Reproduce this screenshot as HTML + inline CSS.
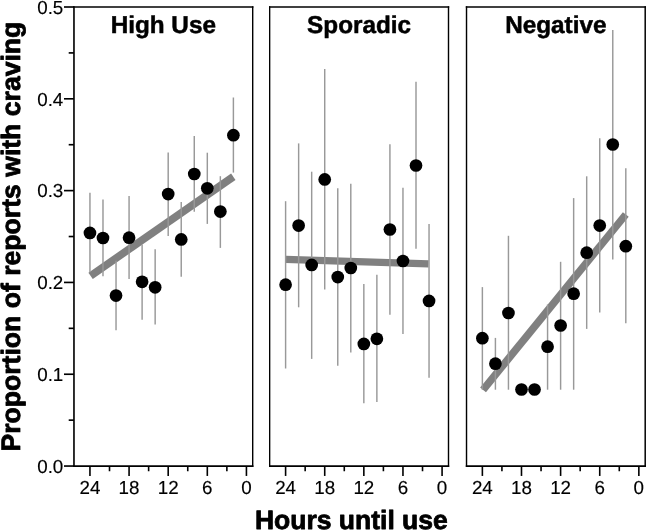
<!DOCTYPE html>
<html lang="en"><head><meta charset="utf-8"><title>Proportion of reports with craving by hours until use</title>
<style>html,body{margin:0;padding:0;background:#fff;}svg{display:block;will-change:transform;text-rendering:geometricPrecision;font-family:"Liberation Sans",Arial,Helvetica,sans-serif;}</style></head><body>
<svg width="646" height="530" viewBox="0 0 646 530">
<rect width="646" height="530" fill="#fff"/>
<line x1="90.6" y1="275.85" x2="233.3" y2="176.75" stroke="#808080" stroke-width="7.65"/>
<line x1="89.95" y1="192.7" x2="89.95" y2="272.2" stroke="#999" stroke-width="1.45"/>
<line x1="102.99" y1="199.4" x2="102.99" y2="276.2" stroke="#999" stroke-width="1.45"/>
<line x1="116.03" y1="260.7" x2="116.03" y2="330.3" stroke="#999" stroke-width="1.45"/>
<line x1="129.07" y1="196.1" x2="129.07" y2="278.9" stroke="#999" stroke-width="1.45"/>
<line x1="142.11" y1="244.5" x2="142.11" y2="319.7" stroke="#999" stroke-width="1.45"/>
<line x1="155.15" y1="249.3" x2="155.15" y2="324.5" stroke="#999" stroke-width="1.45"/>
<line x1="168.19" y1="152.5" x2="168.19" y2="236.0" stroke="#999" stroke-width="1.45"/>
<line x1="181.23" y1="202.0" x2="181.23" y2="276.8" stroke="#999" stroke-width="1.45"/>
<line x1="194.27" y1="136.0" x2="194.27" y2="211.7" stroke="#999" stroke-width="1.45"/>
<line x1="207.31" y1="152.7" x2="207.31" y2="223.9" stroke="#999" stroke-width="1.45"/>
<line x1="220.35" y1="176.2" x2="220.35" y2="247.9" stroke="#999" stroke-width="1.45"/>
<line x1="233.39" y1="97.5" x2="233.39" y2="172.6" stroke="#999" stroke-width="1.45"/>
<circle cx="89.95" cy="232.9" r="6.35" fill="#000"/>
<circle cx="102.99" cy="238.0" r="6.35" fill="#000"/>
<circle cx="116.03" cy="295.6" r="6.35" fill="#000"/>
<circle cx="129.07" cy="237.7" r="6.35" fill="#000"/>
<circle cx="142.11" cy="281.8" r="6.35" fill="#000"/>
<circle cx="155.15" cy="287.3" r="6.35" fill="#000"/>
<circle cx="168.19" cy="194.1" r="6.35" fill="#000"/>
<circle cx="181.23" cy="239.4" r="6.35" fill="#000"/>
<circle cx="194.27" cy="174.0" r="6.35" fill="#000"/>
<circle cx="207.31" cy="188.3" r="6.35" fill="#000"/>
<circle cx="220.35" cy="211.6" r="6.35" fill="#000"/>
<circle cx="233.39" cy="135.2" r="6.35" fill="#000"/>
<line x1="73.97" y1="6.15" x2="73.97" y2="466.97499999999997" stroke="#000" stroke-width="1.63"/>
<line x1="252.7" y1="6.15" x2="252.7" y2="466.97499999999997" stroke="#000" stroke-width="1.4"/>
<line x1="73.16" y1="7.0" x2="253.40" y2="7.0" stroke="#000" stroke-width="1.7"/>
<line x1="73.16" y1="466.15" x2="253.40" y2="466.15" stroke="#000" stroke-width="1.65"/>
<line x1="246.43" y1="466.05" x2="246.43" y2="475.95" stroke="#000" stroke-width="1.6"/>
<text x="246.43" y="494" font-size="18.8" text-anchor="middle" fill="#000" stroke="#000" stroke-width="0.15">0</text>
<line x1="226.87" y1="466.05" x2="226.87" y2="471.25" stroke="#000" stroke-width="1.6"/>
<line x1="207.31" y1="466.05" x2="207.31" y2="475.95" stroke="#000" stroke-width="1.6"/>
<text x="207.31" y="494" font-size="18.8" text-anchor="middle" fill="#000" stroke="#000" stroke-width="0.15">6</text>
<line x1="187.75" y1="466.05" x2="187.75" y2="471.25" stroke="#000" stroke-width="1.6"/>
<line x1="168.19" y1="466.05" x2="168.19" y2="475.95" stroke="#000" stroke-width="1.6"/>
<text x="168.19" y="494" font-size="18.8" text-anchor="middle" fill="#000" stroke="#000" stroke-width="0.15">12</text>
<line x1="148.63" y1="466.05" x2="148.63" y2="471.25" stroke="#000" stroke-width="1.6"/>
<line x1="129.07" y1="466.05" x2="129.07" y2="475.95" stroke="#000" stroke-width="1.6"/>
<text x="129.07" y="494" font-size="18.8" text-anchor="middle" fill="#000" stroke="#000" stroke-width="0.15">18</text>
<line x1="109.51" y1="466.05" x2="109.51" y2="471.25" stroke="#000" stroke-width="1.6"/>
<line x1="89.95" y1="466.05" x2="89.95" y2="475.95" stroke="#000" stroke-width="1.6"/>
<text x="89.95" y="494" font-size="18.8" text-anchor="middle" fill="#000" stroke="#000" stroke-width="0.15">24</text>
<text x="163.3" y="33.3" font-size="24.3" font-weight="bold" text-anchor="middle" fill="#000" stroke="#000" stroke-width="0.5" stroke-linejoin="round">High Use</text>
<line x1="285.6" y1="259.4" x2="428.6" y2="263.9" stroke="#808080" stroke-width="7.2"/>
<line x1="285.60" y1="201.2" x2="285.60" y2="368.5" stroke="#999" stroke-width="1.45"/>
<line x1="298.64" y1="143.4" x2="298.64" y2="307.3" stroke="#999" stroke-width="1.45"/>
<line x1="311.68" y1="171.7" x2="311.68" y2="358.9" stroke="#999" stroke-width="1.45"/>
<line x1="324.72" y1="69.0" x2="324.72" y2="289.5" stroke="#999" stroke-width="1.45"/>
<line x1="337.76" y1="188.3" x2="337.76" y2="365.7" stroke="#999" stroke-width="1.45"/>
<line x1="350.80" y1="183.8" x2="350.80" y2="352.4" stroke="#999" stroke-width="1.45"/>
<line x1="363.84" y1="283.9" x2="363.84" y2="403.3" stroke="#999" stroke-width="1.45"/>
<line x1="376.88" y1="274.8" x2="376.88" y2="401.9" stroke="#999" stroke-width="1.45"/>
<line x1="389.92" y1="144.3" x2="389.92" y2="314.8" stroke="#999" stroke-width="1.45"/>
<line x1="402.96" y1="187.7" x2="402.96" y2="334.0" stroke="#999" stroke-width="1.45"/>
<line x1="416.00" y1="81.7" x2="416.00" y2="248.8" stroke="#999" stroke-width="1.45"/>
<line x1="429.04" y1="223.9" x2="429.04" y2="377.8" stroke="#999" stroke-width="1.45"/>
<circle cx="285.60" cy="284.7" r="6.35" fill="#000"/>
<circle cx="298.64" cy="225.6" r="6.35" fill="#000"/>
<circle cx="311.68" cy="264.9" r="6.35" fill="#000"/>
<circle cx="324.72" cy="179.4" r="6.35" fill="#000"/>
<circle cx="337.76" cy="277.1" r="6.35" fill="#000"/>
<circle cx="350.80" cy="268.0" r="6.35" fill="#000"/>
<circle cx="363.84" cy="343.9" r="6.35" fill="#000"/>
<circle cx="376.88" cy="338.8" r="6.35" fill="#000"/>
<circle cx="389.92" cy="229.5" r="6.35" fill="#000"/>
<circle cx="402.96" cy="261.0" r="6.35" fill="#000"/>
<circle cx="416.00" cy="165.5" r="6.35" fill="#000"/>
<circle cx="429.04" cy="300.9" r="6.35" fill="#000"/>
<line x1="269.68" y1="6.15" x2="269.68" y2="466.97499999999997" stroke="#000" stroke-width="1.35"/>
<line x1="448.5" y1="6.15" x2="448.5" y2="466.97499999999997" stroke="#000" stroke-width="1.4"/>
<line x1="269.00" y1="7.0" x2="449.20" y2="7.0" stroke="#000" stroke-width="1.7"/>
<line x1="269.00" y1="466.15" x2="449.20" y2="466.15" stroke="#000" stroke-width="1.65"/>
<line x1="442.08" y1="466.05" x2="442.08" y2="475.95" stroke="#000" stroke-width="1.6"/>
<text x="442.08" y="494" font-size="18.8" text-anchor="middle" fill="#000" stroke="#000" stroke-width="0.15">0</text>
<line x1="422.52" y1="466.05" x2="422.52" y2="471.25" stroke="#000" stroke-width="1.6"/>
<line x1="402.96" y1="466.05" x2="402.96" y2="475.95" stroke="#000" stroke-width="1.6"/>
<text x="402.96" y="494" font-size="18.8" text-anchor="middle" fill="#000" stroke="#000" stroke-width="0.15">6</text>
<line x1="383.40" y1="466.05" x2="383.40" y2="471.25" stroke="#000" stroke-width="1.6"/>
<line x1="363.84" y1="466.05" x2="363.84" y2="475.95" stroke="#000" stroke-width="1.6"/>
<text x="363.84" y="494" font-size="18.8" text-anchor="middle" fill="#000" stroke="#000" stroke-width="0.15">12</text>
<line x1="344.28" y1="466.05" x2="344.28" y2="471.25" stroke="#000" stroke-width="1.6"/>
<line x1="324.72" y1="466.05" x2="324.72" y2="475.95" stroke="#000" stroke-width="1.6"/>
<text x="324.72" y="494" font-size="18.8" text-anchor="middle" fill="#000" stroke="#000" stroke-width="0.15">18</text>
<line x1="305.16" y1="466.05" x2="305.16" y2="471.25" stroke="#000" stroke-width="1.6"/>
<line x1="285.60" y1="466.05" x2="285.60" y2="475.95" stroke="#000" stroke-width="1.6"/>
<text x="285.60" y="494" font-size="18.8" text-anchor="middle" fill="#000" stroke="#000" stroke-width="0.15">24</text>
<text x="359.1" y="33.3" font-size="24.3" font-weight="bold" text-anchor="middle" fill="#000" stroke="#000" stroke-width="0.5" stroke-linejoin="round">Sporadic</text>
<line x1="483.06" y1="389.86" x2="625.8" y2="214.5" stroke="#808080" stroke-width="7.5"/>
<line x1="482.37" y1="287.1" x2="482.37" y2="389.7" stroke="#999" stroke-width="1.45"/>
<line x1="495.41" y1="337.9" x2="495.41" y2="389.7" stroke="#999" stroke-width="1.45"/>
<line x1="508.45" y1="235.8" x2="508.45" y2="389.7" stroke="#999" stroke-width="1.45"/>
<line x1="547.57" y1="304.5" x2="547.57" y2="389.7" stroke="#999" stroke-width="1.45"/>
<line x1="560.61" y1="261.8" x2="560.61" y2="389.7" stroke="#999" stroke-width="1.45"/>
<line x1="573.65" y1="198.1" x2="573.65" y2="389.7" stroke="#999" stroke-width="1.45"/>
<line x1="586.69" y1="176.3" x2="586.69" y2="328.9" stroke="#999" stroke-width="1.45"/>
<line x1="599.73" y1="138.3" x2="599.73" y2="312.5" stroke="#999" stroke-width="1.45"/>
<line x1="612.77" y1="29.9" x2="612.77" y2="259.5" stroke="#999" stroke-width="1.45"/>
<line x1="625.81" y1="168.2" x2="625.81" y2="323.2" stroke="#999" stroke-width="1.45"/>
<circle cx="482.37" cy="338.2" r="6.35" fill="#000"/>
<circle cx="495.41" cy="363.7" r="6.35" fill="#000"/>
<circle cx="508.45" cy="313.0" r="6.35" fill="#000"/>
<circle cx="521.49" cy="389.5" r="6.35" fill="#000"/>
<circle cx="534.53" cy="389.5" r="6.35" fill="#000"/>
<circle cx="547.57" cy="346.7" r="6.35" fill="#000"/>
<circle cx="560.61" cy="325.5" r="6.35" fill="#000"/>
<circle cx="573.65" cy="293.7" r="6.35" fill="#000"/>
<circle cx="586.69" cy="252.7" r="6.35" fill="#000"/>
<circle cx="599.73" cy="225.6" r="6.35" fill="#000"/>
<circle cx="612.77" cy="144.5" r="6.35" fill="#000"/>
<circle cx="625.81" cy="246.2" r="6.35" fill="#000"/>
<line x1="466.52" y1="6.15" x2="466.52" y2="466.97499999999997" stroke="#000" stroke-width="1.42"/>
<line x1="645.2" y1="6.15" x2="645.2" y2="466.97499999999997" stroke="#000" stroke-width="1.5"/>
<line x1="465.81" y1="7.0" x2="645.95" y2="7.0" stroke="#000" stroke-width="1.7"/>
<line x1="465.81" y1="466.15" x2="645.95" y2="466.15" stroke="#000" stroke-width="1.65"/>
<line x1="638.85" y1="466.05" x2="638.85" y2="475.95" stroke="#000" stroke-width="1.6"/>
<text x="638.85" y="494" font-size="18.8" text-anchor="middle" fill="#000" stroke="#000" stroke-width="0.15">0</text>
<line x1="619.29" y1="466.05" x2="619.29" y2="471.25" stroke="#000" stroke-width="1.6"/>
<line x1="599.73" y1="466.05" x2="599.73" y2="475.95" stroke="#000" stroke-width="1.6"/>
<text x="599.73" y="494" font-size="18.8" text-anchor="middle" fill="#000" stroke="#000" stroke-width="0.15">6</text>
<line x1="580.17" y1="466.05" x2="580.17" y2="471.25" stroke="#000" stroke-width="1.6"/>
<line x1="560.61" y1="466.05" x2="560.61" y2="475.95" stroke="#000" stroke-width="1.6"/>
<text x="560.61" y="494" font-size="18.8" text-anchor="middle" fill="#000" stroke="#000" stroke-width="0.15">12</text>
<line x1="541.05" y1="466.05" x2="541.05" y2="471.25" stroke="#000" stroke-width="1.6"/>
<line x1="521.49" y1="466.05" x2="521.49" y2="475.95" stroke="#000" stroke-width="1.6"/>
<text x="521.49" y="494" font-size="18.8" text-anchor="middle" fill="#000" stroke="#000" stroke-width="0.15">18</text>
<line x1="501.93" y1="466.05" x2="501.93" y2="471.25" stroke="#000" stroke-width="1.6"/>
<line x1="482.37" y1="466.05" x2="482.37" y2="475.95" stroke="#000" stroke-width="1.6"/>
<text x="482.37" y="494" font-size="18.8" text-anchor="middle" fill="#000" stroke="#000" stroke-width="0.15">24</text>
<text x="555.8" y="33.3" font-size="24.3" font-weight="bold" text-anchor="middle" fill="#000" stroke="#000" stroke-width="0.5" stroke-linejoin="round">Negative</text>
<line x1="64.00" y1="466.05" x2="73.9" y2="466.05" stroke="#000" stroke-width="1.65"/>
<text x="63.3" y="472.8" font-size="18.8" text-anchor="end" fill="#000" stroke="#000" stroke-width="0.15">0.0</text>
<line x1="68.70" y1="420.14" x2="73.9" y2="420.14" stroke="#000" stroke-width="1.65"/>
<line x1="64.00" y1="374.24" x2="73.9" y2="374.24" stroke="#000" stroke-width="1.65"/>
<text x="63.3" y="380.9" font-size="18.8" text-anchor="end" fill="#000" stroke="#000" stroke-width="0.15">0.1</text>
<line x1="68.70" y1="328.34" x2="73.9" y2="328.34" stroke="#000" stroke-width="1.65"/>
<line x1="64.00" y1="282.43" x2="73.9" y2="282.43" stroke="#000" stroke-width="1.65"/>
<text x="63.3" y="289.1" font-size="18.8" text-anchor="end" fill="#000" stroke="#000" stroke-width="0.15">0.2</text>
<line x1="68.70" y1="236.53" x2="73.9" y2="236.53" stroke="#000" stroke-width="1.65"/>
<line x1="64.00" y1="190.62" x2="73.9" y2="190.62" stroke="#000" stroke-width="1.65"/>
<text x="63.3" y="197.3" font-size="18.8" text-anchor="end" fill="#000" stroke="#000" stroke-width="0.15">0.3</text>
<line x1="68.70" y1="144.71" x2="73.9" y2="144.71" stroke="#000" stroke-width="1.65"/>
<line x1="64.00" y1="98.81" x2="73.9" y2="98.81" stroke="#000" stroke-width="1.65"/>
<text x="63.3" y="105.5" font-size="18.8" text-anchor="end" fill="#000" stroke="#000" stroke-width="0.15">0.4</text>
<line x1="68.70" y1="52.91" x2="73.9" y2="52.91" stroke="#000" stroke-width="1.65"/>
<line x1="64.00" y1="7.00" x2="73.9" y2="7.00" stroke="#000" stroke-width="1.65"/>
<text x="63.3" y="13.7" font-size="18.8" text-anchor="end" fill="#000" stroke="#000" stroke-width="0.15">0.5</text>
<text transform="translate(20.1,451.6) rotate(-90)" font-size="26.6" font-weight="bold" fill="#000" stroke="#000" stroke-width="0.8" stroke-linejoin="round">Proportion of reports with craving</text>
<text x="254.9" y="528.9" font-size="26.5" font-weight="bold" fill="#000" stroke="#000" stroke-width="0.8" stroke-linejoin="round">Hours until use</text>
</svg></body></html>
